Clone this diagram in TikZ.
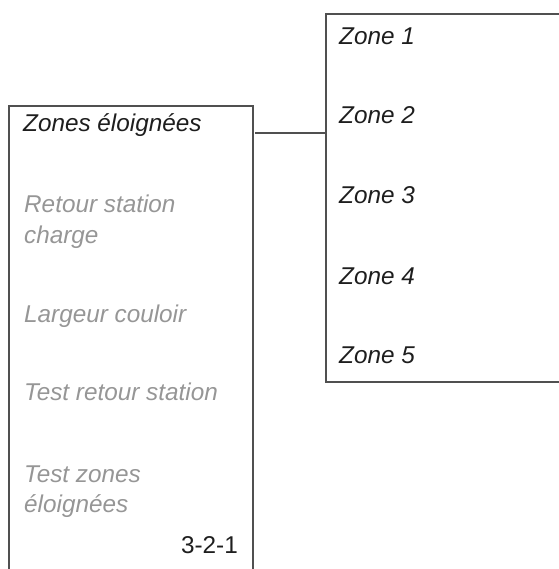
\documentclass[tikz,border=0pt]{standalone}
\usepackage{fontspec}
\setmainfont{Liberation Sans}
\definecolor{txtdark}{HTML}{1E1E1E}
\definecolor{txtgray}{HTML}{969696}
\definecolor{boxline}{HTML}{505050}
\begin{document}
\begin{tikzpicture}[x=1pt,y=-1pt,
  panel/.style={draw=boxline,line width=1.2pt},
  item/.style={anchor=base west,inner sep=0pt,font=\fontsize{24.3}{31}\selectfont\itshape},
  active/.style={item,text=txtdark},
  inactive/.style={item,text=txtgray},
  link/.style={draw=boxline,line width=1.2pt}]
\useasboundingbox (0,0) rectangle (558,569);
% panels (open at the bottom / right, running off the page)
\draw[panel] (9,620) -- (9,106) -- (253,106) -- (253,620);
\draw[panel] (620,14) -- (326,14) -- (326,382) -- (620,382);
\coordinate (lport) at (255,133);
\coordinate (rport) at (326,133);
% left menu
\node[active]   (z)  at (23,132) {Zones éloignées};
\node[inactive] (r1) at (24,212) {Retour station};
\node[inactive] (r2) at (24,243) {charge};
\node[inactive] (l)  at (24,322) {Largeur couloir};
\node[inactive] (t)  at (24,400) {Test retour station};
\node[inactive] (s1) at (24,482) {Test zones};
\node[inactive] (s2) at (24,512) {éloignées};
\node[anchor=base east,inner sep=0pt,text=txtdark,font=\fontsize{24.3}{31}\selectfont] (id) at (238,553) {3-2-1};
% right menu
\node[active] (z1) at (339,45)  {Zone 1};
\node[active] (z2) at (339,124) {Zone 2};
\node[active] (z3) at (339,204) {Zone 3};
\node[active] (z4) at (339,284) {Zone 4};
\node[active] (z5) at (339,363) {Zone 5};
% connector
\draw[link] (lport) -- (rport);
\end{tikzpicture}
\end{document}
